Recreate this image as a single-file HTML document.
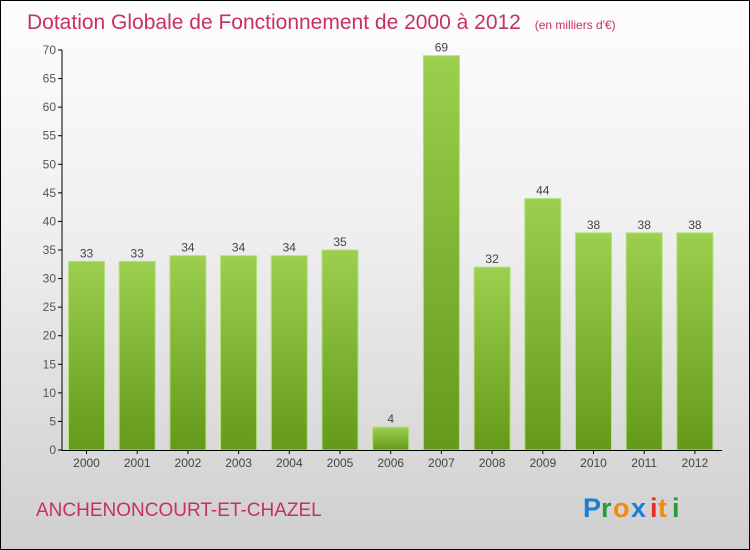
<!DOCTYPE html>
<html><head><meta charset="utf-8"><style>
body{margin:0}
#c{position:relative;width:748px;height:548px;border:1px solid #000;background:linear-gradient(#fdfdfd,#f0f0f0 40%,#cfcfcf);font-family:"Liberation Sans",sans-serif;overflow:hidden}
</style></head><body>
<div id="c">
<svg width="748" height="548" style="position:absolute;left:0;top:0">
<defs><linearGradient id="g" x1="0" y1="0" x2="0" y2="1"><stop offset="0" stop-color="#9ccf4e"/><stop offset="1" stop-color="#64991a"/></linearGradient></defs>
<text x="26" y="28" font-size="21" fill="#c8305f">Dotation Globale de Fonctionnement de 2000 à 2012 <tspan font-size="12" dx="8">(en milliers d'€)</tspan></text>
<g id="plot"></g>
<text x="35" y="515" font-size="19" fill="#c8305f">ANCHENONCOURT-ET-CHAZEL</text>
<g font-size="27" font-weight="bold" font-family="Liberation Sans, sans-serif">
<text x="582" y="516" fill="#1a7fd0">P</text><text x="600" y="516" fill="#2a9a3a">r</text><text x="612" y="516" fill="#f08a10">o</text><text x="630" y="516" fill="#1a7fd0">x</text><text x="649" y="516" fill="#e83020">i</text><text x="657" y="516" fill="#f08a10">t</text><text x="671" y="516" fill="#2a9a3a">i</text>
</g>
</svg>
</div>
<script>
const years=["2000","2001","2002","2003","2004","2005","2006","2007","2008","2009","2010","2011","2012"];
const values=[33,33,34,34,34,35,4,69,32,44,38,38,38];
const yTicks=[0,5,10,15,20,25,30,35,40,45,50,55,60,65,70];
const NS="http://www.w3.org/2000/svg",g=document.getElementById('plot');
const y=v=>449-v*(400/70), x=i=>85.5+i*50.7;
function mk(t,a){const e=document.createElementNS(NS,t);for(const k in a)e.setAttribute(k,a[k]);g.appendChild(e);return e;}
yTicks.forEach(t=>{const l=mk('line',{x1:57,x2:61,y1:y(t),y2:y(t),stroke:'#000'});


const s=mk('text',{x:55,y:y(t)+4,'text-anchor':'end','font-size':12,fill:'#555'});s.textContent=t;

});
values.forEach((v,i)=>{const r=mk('rect',{x:x(i)-18,y:y(v),width:36,height:y(0)-y(v),fill:'url(#g)',stroke:'#b5e07a','stroke-width':1});


const t=mk('text',{x:x(i),y:y(v)-4,'text-anchor':'middle','font-size':12,fill:'#444'});t.textContent=v;


const k=mk('line',{x1:x(i),x2:x(i),y1:449,y2:453,stroke:'#000'});


const l=mk('text',{x:x(i),y:466,'text-anchor':'middle','font-size':12,fill:'#444'});l.textContent=years[i];

});
const ya=mk('line',{x1:61,x2:61,y1:49,y2:450,stroke:'#000'});


const xa=mk('line',{x1:61,x2:721,y1:449.5,y2:449.5,stroke:'#000'});


</script>
</body></html>
